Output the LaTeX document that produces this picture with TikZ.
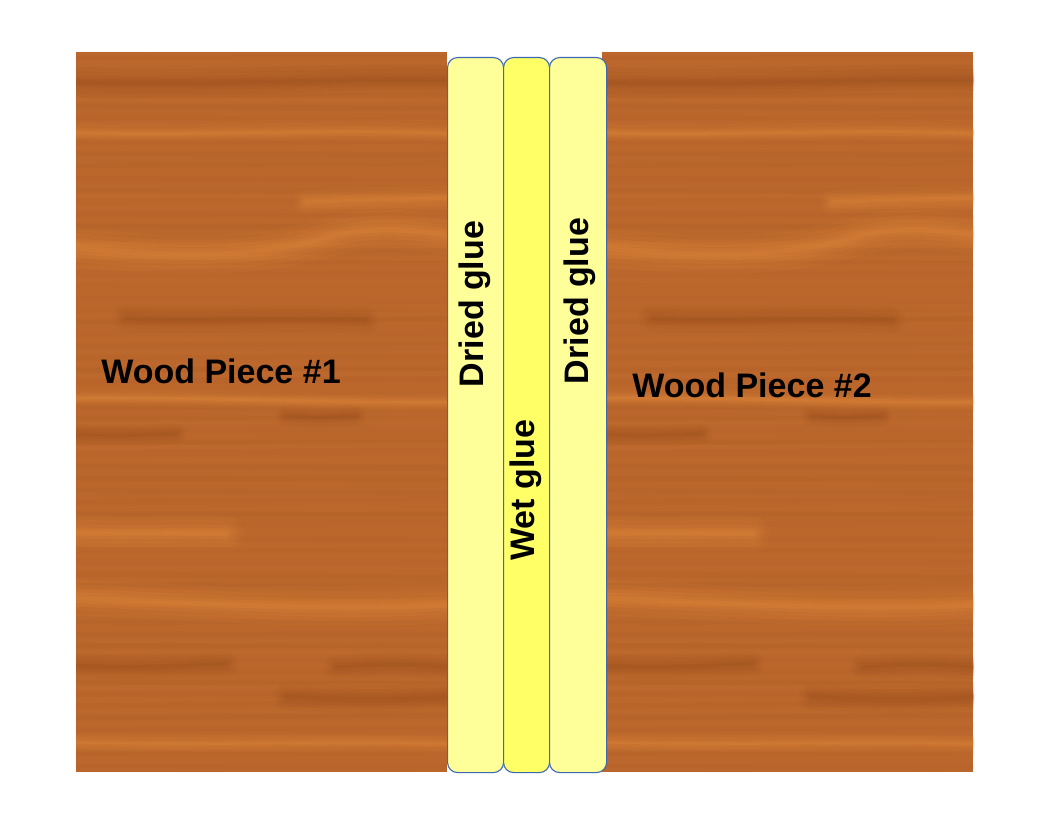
\documentclass[tikz,border=0pt]{standalone}
\usepackage{fontspec}
\setmainfont{Liberation Sans}
\definecolor{woodbase}{RGB}{186,102,44}
\definecolor{woodlite}{RGB}{236,148,64}
\definecolor{wooddark}{RGB}{150,76,26}
\definecolor{driedglue}{RGB}{255,255,153}
\definecolor{wetglue}{RGB}{255,255,102}
\definecolor{gluebord}{RGB}{62,104,180}
\newcommand\grain[3]{%
  \draw[#1, line width=#2*3.0, opacity=0.07, line cap=round] #3;
  \draw[#1, line width=#2*2.2, opacity=0.09, line cap=round] #3;
  \draw[#1, line width=#2*1.5, opacity=0.11, line cap=round] #3;
  \draw[#1, line width=#2*0.9, opacity=0.13, line cap=round] #3;
  \draw[#1, line width=#2*0.4, opacity=0.15, line cap=round] #3;}
\newcommand\woodtexture{%
  \fill[woodbase] (0,0) rectangle (371,720);
  \pgfmathsetseed{11}
  \foreach \yy in {0,6,...,720}{%
    \pgfmathsetmacro\op{0.02+0.05*rnd}
    \pgfmathsetmacro\dy{4*rand}
    \pgfmathtruncatemacro\kk{\yy/6}
    \ifodd\kk
      \draw[wooddark, line width=5, opacity=\op] (-10,\yy) -- (390,\yy+\dy);
    \else
      \draw[woodlite, line width=5, opacity=\op] (-10,\yy) -- (390,\yy+\dy);
    \fi}
  \grain{wooddark}{10}{(-20,30) .. controls (150,36) and (260,24) .. (390,28)}
  \grain{woodlite}{6}{(-20,80) .. controls (120,84) and (260,76) .. (390,82)}
  \grain{woodlite}{8}{(230,150) .. controls (290,148) .. (390,146)}
  \grain{woodlite}{13}{(-20,194) .. controls (100,206) and (180,206) .. (250,186) .. controls (300,172) and (340,178) .. (390,186)}
  \grain{wooddark}{9}{(50,266) .. controls (120,270) and (200,264) .. (290,268)}
  \grain{woodlite}{6}{(-20,346) .. controls (120,344) and (250,352) .. (390,350)}
  \grain{wooddark}{7}{(210,364) .. controls (240,366) .. (280,364)}
  \grain{wooddark}{7}{(-20,382) .. controls (40,384) .. (100,382)}
  \grain{woodlite}{12}{(-20,480) .. controls (60,484) and (110,480) .. (150,482)}
  \grain{woodlite}{12}{(-20,545) .. controls (120,550) and (250,562) .. (390,552)}
  \grain{wooddark}{8}{(-20,613) .. controls (60,615) .. (150,612)}
  \grain{wooddark}{8}{(260,615) .. controls (320,612) .. (390,616)}
  \grain{wooddark}{9}{(210,645) .. controls (300,648) .. (390,644)}
  \grain{woodlite}{6}{(-20,690) .. controls (150,694) and (260,688) .. (390,692)}
}
\tikzset{
  glue/.style={draw=gluebord, line width=1.1pt, rounded corners=10pt,
    anchor=north west, inner sep=0pt, minimum height=715pt},
  gluetext/.style={rotate=90, font=\fontsize{34}{40}\selectfont\bfseries,
    inner sep=0pt, text=black},
  woodtext/.style={font=\fontsize{34}{40}\selectfont\bfseries,
    inner sep=0pt, text=black},
}
\begin{document}
\begin{tikzpicture}[x=1pt,y=-1pt]
\useasboundingbox (0,0) rectangle (1056,816);
\fill[white] (0,0) rectangle (1056,816);
% wood pieces
\begin{scope}[shift={(76,52)}]
  \clip (0,0) rectangle (371,720);
  \woodtexture
\end{scope}
\begin{scope}[shift={(602,52)}]
  \clip (0,0) rectangle (372,720);
  \woodtexture
\end{scope}
% glue strips
\node[glue, fill=driedglue, minimum width=56pt] (glue1) at (447,57) {};
\node[glue, fill=wetglue, minimum width=46pt] (glue2) at (503,57) {};
\node[glue, fill=driedglue, minimum width=57pt] (glue3) at (549,57) {};
% labels
\node[gluetext] (t1) at (475,304) {Dried glue};
\node[gluetext] (t2) at (526,490) {Wet glue};
\node[gluetext] (t3) at (580,301) {Dried glue};
\node[woodtext] (w1) at (221,371) {Wood Piece \#1};
\node[woodtext] (w2) at (752,385) {Wood Piece \#2};
\end{tikzpicture}
\end{document}
